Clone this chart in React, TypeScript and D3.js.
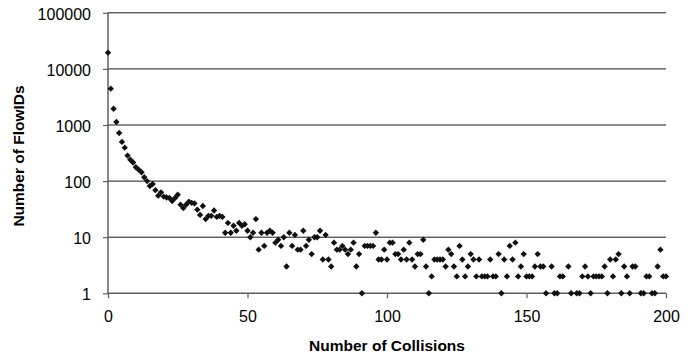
import React, { useEffect, useRef } from "react";
import * as d3 from "d3";

// number of collisions (x) and number of flowIDs (y)
// some x values have no point (count 0 can't sit on a log axis)
const collisions = [
  0, 1, 2, 3, 4, 5, 6, 7, 8, 9, 10, 11, 12, 13, 14, 15, 16, 17, 18, 19,
  20, 21, 22, 23, 24, 25, 26, 27, 28, 29, 30, 31, 32, 33, 34, 35, 36, 37, 38, 39,
  40, 41, 42, 43, 44, 45, 46, 47, 48, 49, 50, 51, 52, 53, 54, 55, 56, 57, 58, 59,
  60, 61, 62, 63, 64, 65, 66, 67, 68, 69, 70, 71, 72, 73, 74, 75, 76, 77, 78, 79,
  80, 81, 82, 83, 84, 85, 86, 87, 88, 89, 90, 91, 92, 93, 94, 95, 96, 97, 98, 99,
  100, 101, 102, 103, 104, 105, 106, 107, 108, 109, 110, 111, 112, 113, 114, 115, 116, 117, 118, 119,
  120, 121, 122, 123, 124, 125, 126, 127, 128, 129, 130, 131, 132, 133, 134, 135, 136, 137, 138, 139,
  140, 141, 142, 143, 144, 145, 146, 147, 148, 149, 150, 151, 152, 153, 154, 155, 156, 157, 159,
  160, 161, 162, 163, 165, 166, 168, 169, 170, 171, 172, 173, 174, 175, 176, 177, 178, 179,
  180, 181, 182, 183, 184, 185, 186, 187, 188, 189, 191, 192, 193, 194, 195, 196, 197, 198, 199, 200,
];
const flowIds = [
  19500, 4450, 1950, 1130, 720, 500, 395, 285, 240, 215, 177, 160, 144, 117, 100, 82, 89, 69, 55, 63,
  53, 51, 50, 44, 50, 57, 38, 33, 38, 43, 41, 40, 31, 25, 36, 21, 24, 24, 30, 23,
  24, 23, 12, 18, 12, 16, 13, 18, 16, 17, 13, 10, 12, 21, 6, 12, 7, 12, 13, 12,
  8, 9, 7, 10, 3, 12, 7, 11, 6, 6, 13, 7, 9, 5, 10, 10, 13, 4, 11, 4,
  3, 8, 6, 6, 7, 6, 5, 6, 8, 3, 5, 1, 7, 7, 7, 7, 12, 4, 4, 6,
  4, 8, 8, 5, 5, 4, 6, 4, 8, 4, 3, 5, 5, 9, 3, 1, 2, 4, 4, 4,
  4, 3, 6, 5, 3, 2, 7, 4, 2, 3, 5, 4, 2, 4, 2, 2, 2, 4, 2, 2,
  5, 1, 4, 2, 7, 4, 8, 2, 3, 5, 2, 2, 2, 3, 5, 3, 3, 1, 3,
  1, 1, 2, 2, 3, 1, 1, 1, 2, 3, 2, 1, 2, 2, 2, 2, 3, 1,
  4, 2, 4, 5, 1, 3, 2, 1, 3, 3, 1, 1, 2, 2, 1, 1, 3, 6, 2, 2,
];

const yTicks = [1, 10, 100, 1000, 10000, 100000];
const xTicks = [0, 50, 100, 150, 200];

export default function App() {
  const ref = useRef<SVGSVGElement>(null);

  useEffect(() => {
    const svg = d3.select(ref.current);
    svg.selectAll("*").remove();

    const left = 108, right = 666, top = 12.8, bottom = 293.3;
    const font = "'Liberation Sans', Arial, sans-serif";

    const x = d3.scaleLinear().domain([0, 200]).range([left, right]);
    const y = d3.scaleLog().domain([1, 100000]).range([bottom, top]);

    // gridlines
    svg.append("g")
      .selectAll("line")
      .data(yTicks.slice(1))
      .join("line")
      .attr("x1", left)
      .attr("x2", right)
      .attr("y1", (d) => y(d))
      .attr("y2", (d) => y(d))
      .attr("stroke", "#1a1a1a")
      .attr("stroke-width", 1);

    // y axis
    const yAxis = svg.append("g")
      .attr("transform", `translate(${left},0)`)
      .call(d3.axisLeft(y).tickValues(yTicks).tickFormat(d3.format("d")).tickSize(5).tickPadding(12));
    yAxis.select(".domain").attr("stroke", "#5f5f5f").attr("stroke-width", 1.5).attr("d", `M0,${bottom}V${top}`);
    yAxis.selectAll(".tick line").attr("stroke", "#5f5f5f").attr("stroke-width", 1.2);
    yAxis.selectAll(".tick text")
      .attr("dy", "0.4em")
      .style("font-family", font)
      .style("font-size", "16px")
      .attr("fill", "#000");

    // x axis
    const xAxis = svg.append("g")
      .attr("transform", `translate(0,${bottom})`)
      .call(d3.axisBottom(x).tickValues(xTicks).tickSize(5).tickPadding(12));
    xAxis.select(".domain").attr("stroke", "#5f5f5f").attr("stroke-width", 1.5).attr("d", `M${left},0H${right}`);
    xAxis.selectAll(".tick line").attr("stroke", "#5f5f5f").attr("stroke-width", 1.2);
    xAxis.selectAll(".tick text")
      .style("font-family", font)
      .style("font-size", "16px")
      .attr("fill", "#000");

    // axis titles
    svg.append("text")
      .attr("x", (left + right) / 2)
      .attr("y", 351)
      .attr("text-anchor", "middle")
      .style("font-family", font)
      .style("font-size", "15.5px")
      .style("font-weight", "bold")
      .text("Number of Collisions");

    svg.append("text")
      .attr("transform", `translate(24,156) rotate(-90)`)
      .attr("text-anchor", "middle")
      .style("font-family", font)
      .style("font-size", "15.5px")
      .style("font-weight", "bold")
      .text("Number of FlowIDs");

    // diamonds
    const diamond = d3.symbol().type(d3.symbolDiamond2).size(26);
    svg.append("g")
      .selectAll("path")
      .data(collisions.map((c, i) => ({ c, n: flowIds[i] })))
      .join("path")
      .attr("transform", (d) => `translate(${x(d.c)},${y(d.n)})`)
      .attr("d", diamond)
      .attr("fill", "#111");
  }, []);

  return (
    <svg
      ref={ref}
      width={695}
      height={358}
      style={{ position: "absolute", left: 0, top: 0, background: "#fff" }}
    />
  );
}
